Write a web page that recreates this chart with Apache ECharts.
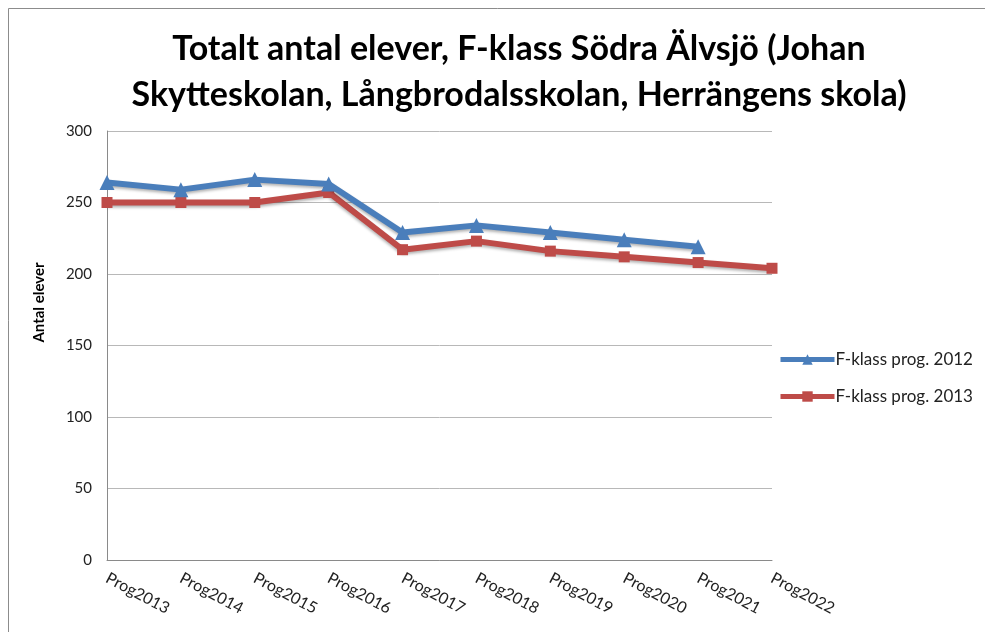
<!DOCTYPE html>
<html>
<head>
<meta charset="UTF-8">
<title>Totalt antal elever</title>
<script src="https://cdn.jsdelivr.net/npm/echarts@6/dist/echarts.min.js"></script>
<style>
  html, body { margin: 0; padding: 0; background: #fff; }
  #main { width: 985px; height: 632px; }
</style>
</head>
<body>
<div id="main"></div>
<script>
// kategorier och värden
var kategorier = ['Prog2013', 'Prog2014', 'Prog2015', 'Prog2016', 'Prog2017',
                  'Prog2018', 'Prog2019', 'Prog2020', 'Prog2021', 'Prog2022'];
var prog2012 = [264, 259, 266, 263, 229, 234, 229, 224, 219, null];
var prog2013 = [250, 250, 250, 257, 217, 223, 216, 212, 208, 204];
var yTicks = [0, 50, 100, 150, 200, 250, 300];

var font = 'Lato, "Open Sans", sans-serif';
var chart = echarts.init(document.getElementById('main'));

var option = {
  backgroundColor: '#fff',
  animation: false,
  title: {
    text: 'Totalt antal elever, F-klass Södra Älvsjö (Johan\nSkytteskolan, Långbrodalsskolan, Herrängens skola)',
    left: 514,
    top: 21,
    textAlign: 'center',
    textStyle: { fontFamily: font, fontSize: 34, fontWeight: 'bold', color: '#000', lineHeight: 46 }
  },
  graphic: [{
    type: 'rect',
    shape: { x: 8.5, y: 8.5, width: 990, height: 640 },
    style: { fill: null, stroke: '#8c8c8c', lineWidth: 1 },
    silent: true
  }],
  legend: {
    orient: 'vertical',
    left: 773,
    top: 346,
    itemGap: 20,
    itemWidth: 54,
    itemHeight: 13,
    lineStyle: { width: 5 },
    textStyle: { fontFamily: font, fontSize: 17, color: '#222', padding: [0, 0, 0, -4] },
    data: ['F-klass prog. 2012', 'F-klass prog. 2013']
  },
  grid: { left: 107, right: 213, top: 131, bottom: 72 },
  xAxis: {
    type: 'category',
    data: kategorier,
    boundaryGap: false,
    axisLine: { lineStyle: { color: '#8a8a8a', width: 1 } },
    axisTick: { show: false },
    axisLabel: {
      rotate: -28,
      margin: 17,
      fontFamily: font,
      fontSize: 16,
      color: '#222'
    }
  },
  yAxis: {
    type: 'value',
    min: yTicks[0],
    max: yTicks[yTicks.length - 1],
    interval: yTicks[1] - yTicks[0],
    name: 'Antal elever',
    nameLocation: 'middle',
    nameGap: 60,
    nameTextStyle: { fontFamily: font, fontSize: 15, fontWeight: 'bold', color: '#000', padding: [0, 0, 0, 86] },
    axisLine: { show: true, lineStyle: { color: '#8a8a8a', width: 1 } },
    axisTick: { show: false },
    splitLine: { lineStyle: { color: '#b8b8b8', width: 1 } },
    axisLabel: { fontFamily: font, fontSize: 15, color: '#222', margin: 15 }
  },
  series: [
    {
      name: 'F-klass prog. 2012',
      type: 'line',
      data: prog2012,
      color: '#4a7ebb',
      symbol: 'triangle',
      symbolSize: 15,
      lineStyle: { width: 6, color: '#4a7ebb', shadowColor: 'rgba(0,0,0,0.3)', shadowBlur: 3, shadowOffsetY: 2 },
      itemStyle: { color: '#4a7ebb' },
      z: 3
    },
    {
      name: 'F-klass prog. 2013',
      type: 'line',
      data: prog2013,
      color: '#be4b48',
      symbol: 'rect',
      symbolSize: 11,
      lineStyle: { width: 6, color: '#be4b48', shadowColor: 'rgba(0,0,0,0.3)', shadowBlur: 3, shadowOffsetY: 2 },
      itemStyle: { color: '#be4b48' },
      z: 2
    }
  ]
};

chart.setOption(option);
</script>
</body>
</html>
